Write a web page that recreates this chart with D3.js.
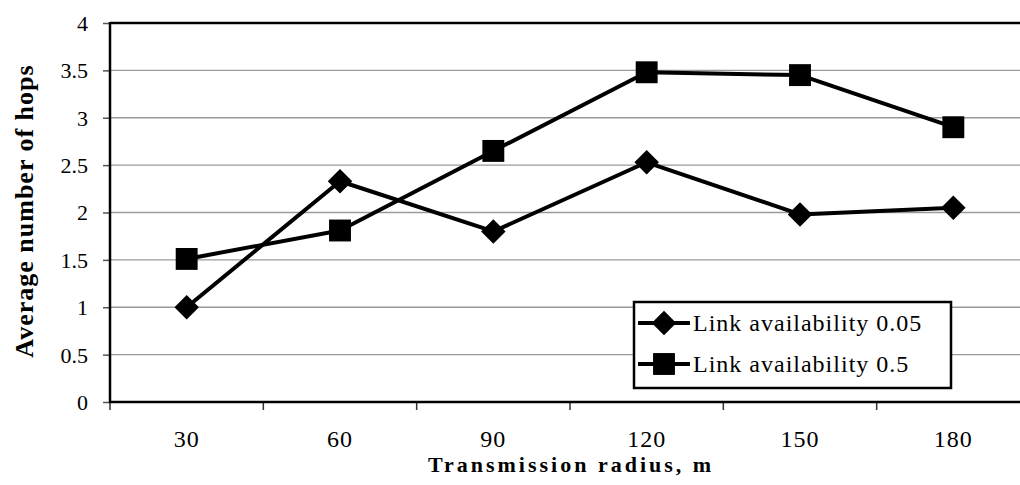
<!DOCTYPE html>
<html>
<head>
<meta charset="utf-8">
<script src="https://cdn.jsdelivr.net/npm/d3@7/dist/d3.min.js"></script>
<style>
  html, body { margin: 0; padding: 0; background: #fff; }
  svg { display: block; }
  text { font-family: "Liberation Serif", "Times New Roman", serif; fill: #000; }
</style>
</head>
<body>
<svg id="chart" width="1020" height="485"></svg>
<script>
// Transmission radius (m) on the x axis
const radii = ["30", "60", "90", "120", "150", "180"];
// Average number of hops for each link availability level
const hopsLow = [1.0, 2.33, 1.80, 2.53, 1.98, 2.05];   // link availability 0.05
const hopsHigh = [1.51, 1.81, 2.65, 3.48, 3.45, 2.90]; // link availability 0.5
const yTicks = [0, 0.5, 1, 1.5, 2, 2.5, 3, 3.5, 4];
const seriesNames = ["Link availability 0.05", "Link availability 0.5"];

const SERIF = "Liberation Serif, Times New Roman, serif";
const svg = d3.select("#chart");
const plot = { left: 110, top: 23, right: 1030, bottom: 402 };

const x = d3.scaleBand().domain(radii).range([plot.left, plot.right]);
const y = d3.scaleLinear().domain([0, 4]).range([plot.bottom, plot.top]);

// horizontal gridlines
svg.append("g").selectAll("line")
  .data(yTicks.filter(v => v > 0 && v < 4))
  .join("line")
  .attr("x1", plot.left).attr("x2", plot.right)
  .attr("y1", d => y(d)).attr("y2", d => y(d))
  .attr("stroke", "#9a9a9a").attr("stroke-width", 1.3);

// top border of the plot area
svg.append("line")
  .attr("x1", plot.left).attr("x2", plot.right)
  .attr("y1", y(4)).attr("y2", y(4))
  .attr("stroke", "#000").attr("stroke-width", 2.5);

// y axis
const yAxis = d3.axisLeft(y).tickValues(yTicks).tickSize(7).tickPadding(15)
  .tickFormat(d => String(d));
const gy = svg.append("g").attr("transform", `translate(${plot.left},0)`).call(yAxis);
gy.attr("font-family", SERIF);
gy.select(".domain").remove();
gy.selectAll(".tick line").attr("stroke", "#555").attr("stroke-width", 1.5);
gy.selectAll(".tick text")
  .attr("font-size", 22).attr("font-family", SERIF).attr("dy", "0.34em");

// x axis: labels at category centres, ticks at band boundaries
const gx = svg.append("g").attr("transform", `translate(0,${plot.bottom})`);
gx.selectAll("text").data(radii).join("text")
  .attr("x", d => x(d) + x.bandwidth() / 2)
  .attr("y", 45)
  .attr("text-anchor", "middle")
  .attr("font-size", 24)
  .attr("letter-spacing", 1)
  .attr("font-family", SERIF)
  .text(d => d);
const boundaries = radii.map(d => x(d)).concat([x(radii[radii.length - 1]) + x.bandwidth()]);
gx.selectAll("line.tick").data(boundaries).join("line")
  .attr("class", "tick")
  .attr("x1", d => d).attr("x2", d => d)
  .attr("y1", 0).attr("y2", 8)
  .attr("stroke", "#333").attr("stroke-width", 1.5);

// axis lines
svg.append("line")
  .attr("x1", plot.left).attr("x2", plot.left)
  .attr("y1", plot.top - 1).attr("y2", plot.bottom + 1)
  .attr("stroke", "#000").attr("stroke-width", 2.5);
svg.append("line")
  .attr("x1", plot.left - 1).attr("x2", plot.right)
  .attr("y1", plot.bottom).attr("y2", plot.bottom)
  .attr("stroke", "#000").attr("stroke-width", 2.5);

// axis titles
svg.append("text")
  .attr("x", 571).attr("y", 472)
  .attr("text-anchor", "middle")
  .attr("font-size", 22).attr("font-weight", "bold")
  .attr("letter-spacing", 3)
  .attr("font-family", SERIF)
  .text("Transmission radius, m");
svg.append("text")
  .attr("transform", `translate(33,211) rotate(-90)`)
  .attr("text-anchor", "middle")
  .attr("font-size", 26).attr("font-weight", "bold")
  .attr("letter-spacing", 1)
  .attr("font-family", SERIF)
  .text("Average number of hops");

// series
const cx = d => x(d) + x.bandwidth() / 2;
const line = d3.line().x(d => cx(d[0])).y(d => y(d[1]));
const diamond = d3.symbol().type(d3.symbolSquare).size(300);
const square = d3.symbol().type(d3.symbolSquare).size(480);

const series = [
  { name: seriesNames[0], values: hopsLow, marker: diamond, rot: 45 },
  { name: seriesNames[1], values: hopsHigh, marker: square, rot: 0 }
];

series.forEach(s => {
  const pts = radii.map((r, i) => [r, s.values[i]]);
  svg.append("path").datum(pts)
    .attr("d", line)
    .attr("fill", "none").attr("stroke", "#000").attr("stroke-width", 4)
    .attr("stroke-linejoin", "round");
  svg.append("g").selectAll("path").data(pts).join("path")
    .attr("d", s.marker)
    .attr("transform", d => `translate(${cx(d[0])},${y(d[1])}) rotate(${s.rot})`)
    .attr("fill", "#000");
});

// legend
const lg = svg.append("g");
const box = { x: 634, y: 302, w: 317, h: 86 };
lg.append("rect")
  .attr("x", box.x).attr("y", box.y).attr("width", box.w).attr("height", box.h)
  .attr("fill", "#fff").attr("stroke", "#000").attr("stroke-width", 2.5);
series.forEach((s, i) => {
  const yy = box.y + 21 + i * 41;
  lg.append("line")
    .attr("x1", box.x + 4).attr("x2", box.x + 56)
    .attr("y1", yy).attr("y2", yy)
    .attr("stroke", "#000").attr("stroke-width", 4);
  lg.append("path")
    .attr("d", s.marker)
    .attr("transform", `translate(${box.x + 30},${yy}) rotate(${s.rot})`)
    .attr("fill", "#000");
  lg.append("text")
    .attr("x", box.x + 59).attr("y", yy + 8)
    .attr("font-size", 24)
    .attr("letter-spacing", 1)
    .attr("font-family", SERIF)
    .text(s.name);
});
</script>
</body>
</html>
